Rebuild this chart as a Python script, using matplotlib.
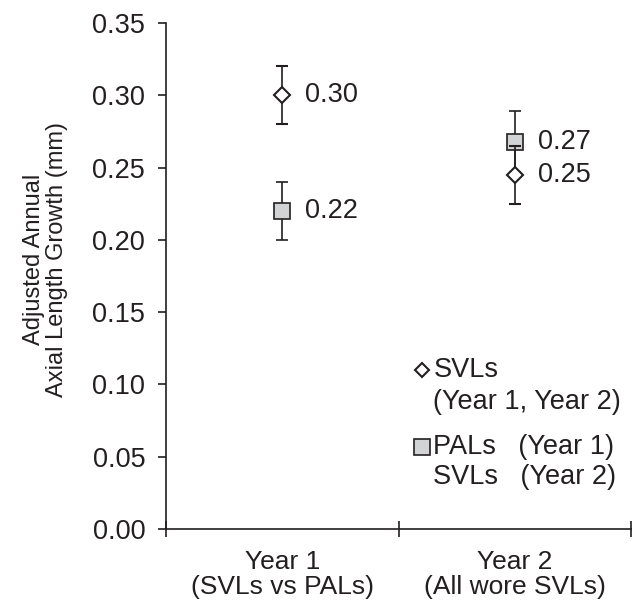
import matplotlib
matplotlib.use('Agg')
import matplotlib.pyplot as plt

plt.rcParams['font.family'] = ['Liberation Sans', 'DejaVu Sans']

# data
categories = ['Year 1\n(SVLs vs PALs)', 'Year 2\n(All wore SVLs)']
x_pos = [0.5, 1.5]
svl_vals = [0.30, 0.245]
svl_err = [0.02, 0.02]
svl_labels = ['0.30', '0.25']
pal_vals = [0.22, 0.268]
pal_err = [0.02, 0.021]
pal_labels = ['0.22', '0.27']
y_ticks = [0.00, 0.05, 0.10, 0.15, 0.20, 0.25, 0.30, 0.35]

dark = '#231f20'
grey_fill = '#d1d3d4'
fs = 19.5

fig = plt.figure(figsize=(6.39, 6.03), dpi=100)
ax = fig.add_axes([0.2598, 0.1227, 0.7277, 0.8392])

# error bars + markers
ax.errorbar(x_pos, pal_vals, yerr=pal_err, fmt='s', ms=11.5, mfc=grey_fill, mec=dark,
            mew=1.2, ecolor=dark, elinewidth=1.2, capsize=4.5, capthick=1.2, zorder=3)
ax.errorbar(x_pos, svl_vals, yerr=svl_err, fmt='D', ms=8, mfc='white', mec=dark,
            mew=1.5, ecolor=dark, elinewidth=1.2, capsize=4.5, capthick=1.2, zorder=4)

# value labels
for x, v, lab in zip(x_pos, svl_vals, svl_labels):
    ax.annotate(lab, (x, v), xytext=(16.5, 0), textcoords='offset points',
                va='center', ha='left', fontsize=fs, color=dark)
for x, v, lab in zip(x_pos, pal_vals, pal_labels):
    ax.annotate(lab, (x, v), xytext=(16.5, 0), textcoords='offset points',
                va='center', ha='left', fontsize=fs, color=dark)

ax.set_xlim(0, 2)
ax.set_ylim(0, 0.35)
ax.set_yticks(y_ticks)
ax.set_yticklabels([f'{t:.2f}' for t in y_ticks])
ax.set_xticks([0, 1, 2])
ax.set_xticklabels([])
ax.set_xticks(x_pos, minor=True)
ax.set_xticklabels(categories, minor=True, linespacing=1.05)

ax.tick_params(axis='y', direction='out', length=6, width=1.2, colors=dark,
               labelsize=fs, pad=9)
ax.tick_params(axis='x', which='major', direction='inout', length=11, width=1.2, colors=dark)
ax.tick_params(axis='x', which='minor', length=0, labelsize=19, pad=15, colors=dark)

for s in ['top', 'right']:
    ax.spines[s].set_visible(False)
for s in ['left', 'bottom']:
    ax.spines[s].set_linewidth(1.2)
    ax.spines[s].set_color(dark)

ax.set_ylabel('Adjusted Annual\nAxial Length Growth (mm)', fontsize=17, color=dark,
              linespacing=1.05)
ax.yaxis.set_label_coords(-0.211, 0.532)

# legend drawn by hand
leg_x = 0.550
tr = ax.get_yaxis_transform()
ax.plot([leg_x], [0.110], transform=tr, marker='D', ms=7.5,
        mfc='white', mec=dark, mew=1.5, clip_on=False)
ax.plot([leg_x], [0.057], transform=tr, marker='s', ms=11,
        mfc=grey_fill, mec=dark, mew=1.2, clip_on=False)
ax.text(leg_x + 0.025, 0.110, 'SVLs', transform=tr,
        va='center', ha='left', fontsize=fs, color=dark)
ax.text(leg_x + 0.025, 0.088, '(Year 1, Year 2)', transform=tr,
        va='center', ha='left', fontsize=fs, color=dark)
ax.text(leg_x + 0.025, 0.057, 'PALs   (Year 1)', transform=tr,
        va='center', ha='left', fontsize=fs, color=dark)
ax.text(leg_x + 0.025, 0.036, 'SVLs   (Year 2)', transform=tr,
        va='center', ha='left', fontsize=fs, color=dark)

fig.savefig('out.png', dpi=100)
